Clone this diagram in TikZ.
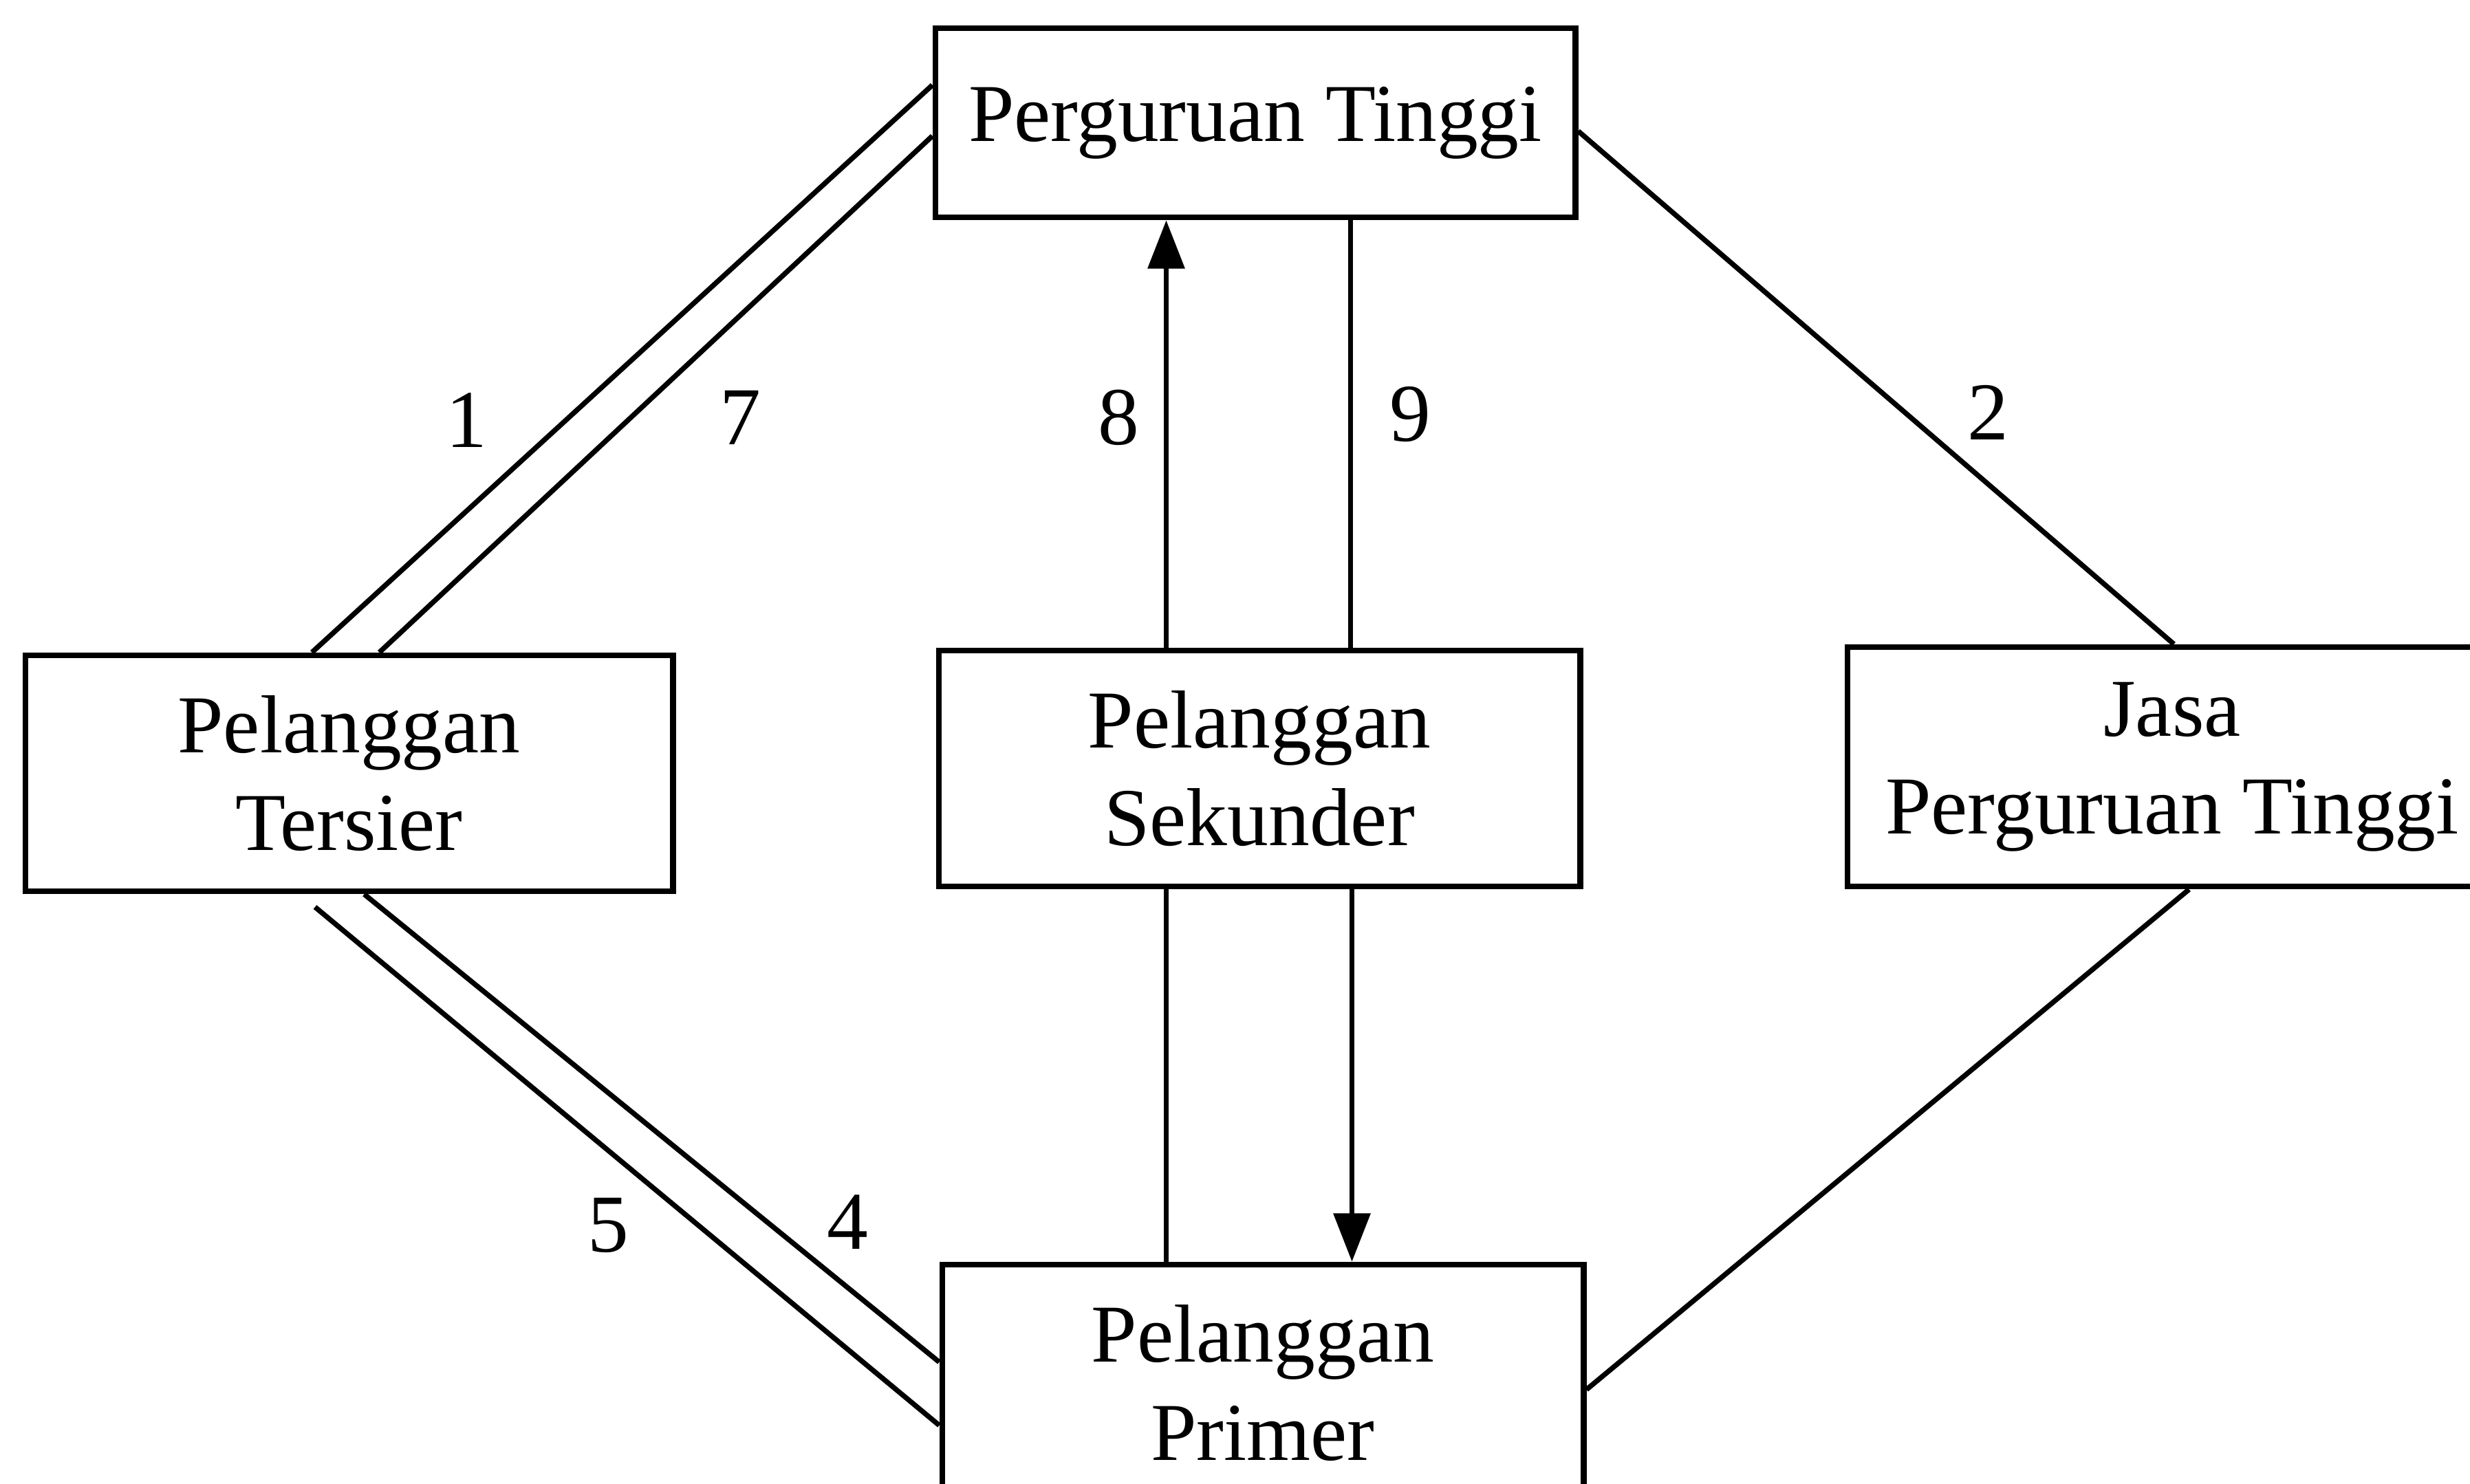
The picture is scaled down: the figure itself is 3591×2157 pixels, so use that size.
\documentclass[tikz,border=0pt]{standalone}
\usepackage{fontspec}
\setmainfont{Liberation Serif}
\usetikzlibrary{arrows.meta,calc}
\begin{document}
\begin{tikzpicture}[x=0.01cm,y=-0.01cm,
  box/.style={draw,line width=2.4pt,inner sep=0pt,align=center,font=\fontsize{34}{40.5}\selectfont},
  conn/.style={line width=2.1pt},
  arr/.style={conn,-{Triangle[length=20pt,width=15pt]}},
  num/.style={font=\fontsize{34}{40}\selectfont,inner sep=0pt}]
\clip (0,0) rectangle (3591,2157);
\fill[white] (0,0) rectangle (3591,2157);

\node[box,minimum width=9.30cm,minimum height=2.75cm] (pt) at (1825,178.5) {Perguruan Tinggi};
\node[box,minimum width=9.41cm,minimum height=3.43cm] (ter) at (507.5,1124.5) {Pelanggan\\Tersier};
\node[box,minimum width=9.32cm,minimum height=3.43cm] (sek) at (1831,1117.5) {Pelanggan\\Sekunder};
\node[box,minimum width=9.44cm,minimum height=3.48cm] (jasa) at (3158,1115) {Jasa\\Perguruan Tinggi};
\node[box,minimum width=9.32cm,minimum height=3.44cm] (pri) at (1836,2011) {Pelanggan\\Primer};

% left upper double line (1, 7)
\draw[conn] ($(ter.north west)+(421,0)$) -- ($(pt.north west)+(0,87)$);
\draw[conn] ($(ter.north west)+(519,0)$) -- ($(pt.north west)+(0,161)$);
% right upper line (2)
\draw[conn] ($(pt.north east)+(0,154)$) -- ($(jasa.north west)+(479,0)$);
% right lower line
\draw[conn] ($(jasa.south west)+(501,0)$) -- ($(pri.north east)+(0,186)$);
% left lower double line (4, 5)
\draw[conn] ($(ter.south west)+(497,0)$) -- ($(pri.north west)+(0,146)$);
\coordinate (s5) at (458,1319);
\draw[conn] (s5) -- ($(pri.north west)+(0,238)$);

% vertical lines (8, 9)
\coordinate (a8) at ($(sek.north west)+(335,0)$);
\coordinate (a9) at ($(sek.north west)+(603,0)$);
\draw[arr] (a8) -- (a8 |- pt.south);
\draw[conn] (a9 |- pt.south) -- (a9);
\coordinate (b8) at ($(sek.south west)+(335,0)$);
\coordinate (b9) at ($(sek.south west)+(605,0)$);
\draw[conn] (b8) -- (b8 |- pri.north);
\draw[arr] (b9) -- (b9 |- pri.north);

% labels
\node[num] (l1) at (678,611) {1};
\node[num] (l7) at (1076,607) {7};
\node[num] (l8) at (1626,607) {8};
\node[num] (l9) at (2050,602) {9};
\node[num] (l2) at (2890,600) {2};
\node[num] (l5) at (884,1782) {5};
\node[num] (l4) at (1232,1777) {4};
\end{tikzpicture}
\end{document}
